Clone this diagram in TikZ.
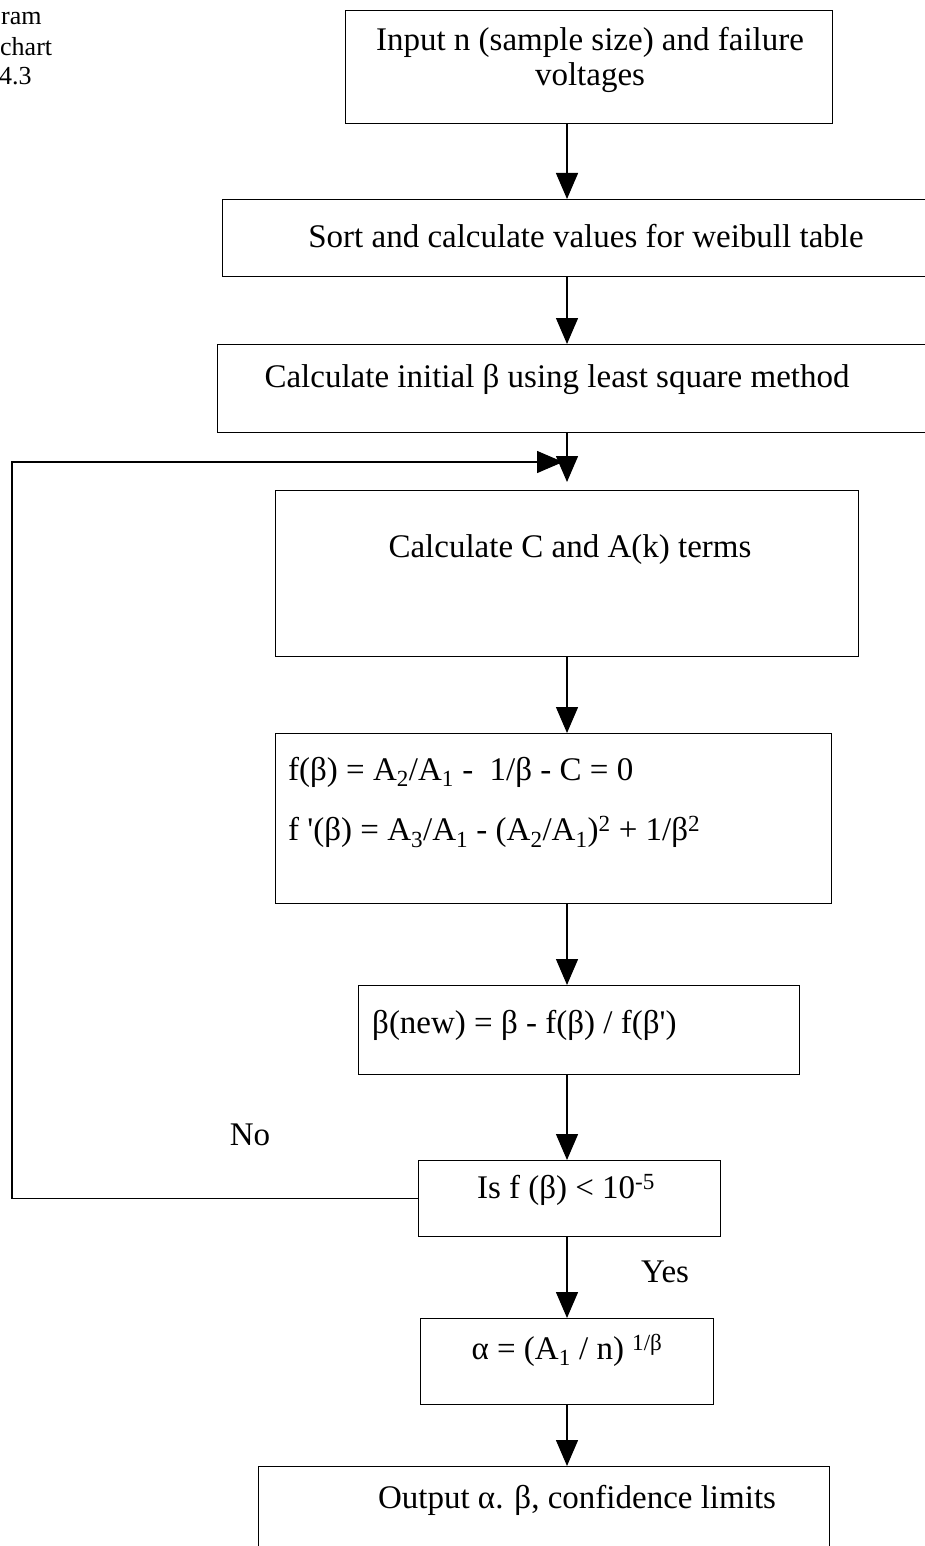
\documentclass[tikz,border=0pt]{standalone}
\usepackage{fontspec}
\setmainfont{Liberation Serif}
\usetikzlibrary{arrows.meta}
\begin{document}
\begin{tikzpicture}[x=1pt,y=-1pt,
  box/.style={draw, line width=1.4pt, inner sep=0pt, anchor=north west},
  lbl/.style={font=\fontsize{33}{38}\selectfont, inner sep=0pt},
  small/.style={font=\fontsize{26}{28}\selectfont, inner sep=0pt, anchor=west},
  arr/.style={line width=1.4pt, -{Triangle[width=22pt,length=26pt]}}]
\useasboundingbox (0,0) rectangle (925,1546);
\clip (0,0) rectangle (925,1546);
% top-left fragment
\node[small] (c1) at (1,19) {ram};
\node[small] (c2) at (0,47) {chart};
\node[small] (c3) at (-1,76) {4.3};
% boxes
\node[box, minimum width=487pt, minimum height=113pt] (b1) at (345,10) {};
\node[box, minimum width=740pt, minimum height=77pt] (b2) at (222,199) {};
\node[box, minimum width=745pt, minimum height=88pt] (b3) at (217,344) {};
\node[box, minimum width=583pt, minimum height=166pt] (b4) at (275,490) {};
\node[box, minimum width=556pt, minimum height=170pt] (b5) at (275,733) {};
\node[box, minimum width=441pt, minimum height=89pt] (b6) at (358,985) {};
\node[box, minimum width=302pt, minimum height=76pt] (b7) at (418,1160) {};
\node[box, minimum width=293pt, minimum height=86pt] (b8) at (420,1318) {};
\node[box, minimum width=571pt, minimum height=120pt] (b9) at (258,1466) {};
% texts
\node[lbl] (t1a) at (590,42) {Input n (sample size) and failure};
\node[lbl] (t1b) at (590,78) {voltages};
\node[lbl] (t2) at (586,236) {Sort and calculate values for weibull table};
\node[lbl] (t3) at (557,379) {Calculate initial β using least square method};
\node[lbl] (t4) at (570,550) {Calculate C and A(k) terms};
\node[lbl, anchor=west] (t5a) at (288,772) {f(β) = A\textsubscript{2}/A\textsubscript{1} -\ \ 1/β - C = 0};
\node[lbl, anchor=west] (t5b) at (288,832) {f \textquotesingle(β) = A\textsubscript{3}/A\textsubscript{1} - (A\textsubscript{2}/A\textsubscript{1})\textsuperscript{2} + 1/β\textsuperscript{2}};
\node[lbl, anchor=west] (t6) at (372,1025) {β(new) = β - f(β) / f(β\textquotesingle)};
\node[lbl] (t7) at (566,1190) {Is f (β) < 10\textsuperscript{-5}};
\node[lbl] (t8) at (567,1350) {α = (A\textsubscript{1} / n) \textsuperscript{1/β}};
\node[lbl] (t9) at (577,1500) {Output α. β, confidence limits};
\node[lbl] (no) at (250,1135) {No};
\node[lbl] (yes) at (665,1272) {Yes};
% connectors
\coordinate (ax) at (567,0);
\coordinate (t4tip) at (567,482);
\coordinate (lp) at (563,462);
\coordinate (lx) at (12,0);
\draw[arr] (b1.south -| ax) -- (b2.north -| ax);
\draw[arr] (b2.south -| ax) -- (b3.north -| ax);
\draw[arr] (b3.south -| ax) -- (t4tip);
\draw[arr] (b4.south -| ax) -- (b5.north -| ax);
\draw[arr] (b5.south -| ax) -- (b6.north -| ax);
\draw[arr] (b6.south -| ax) -- (b7.north -| ax);
\draw[arr] (b7.south -| ax) -- (b8.north -| ax);
\draw[arr] (b8.south -| ax) -- (b9.north -| ax);
\draw[arr] (b7.west) -- (b7.west -| lx) -- (lx |- lp) -- (lp);
\end{tikzpicture}
\end{document}
